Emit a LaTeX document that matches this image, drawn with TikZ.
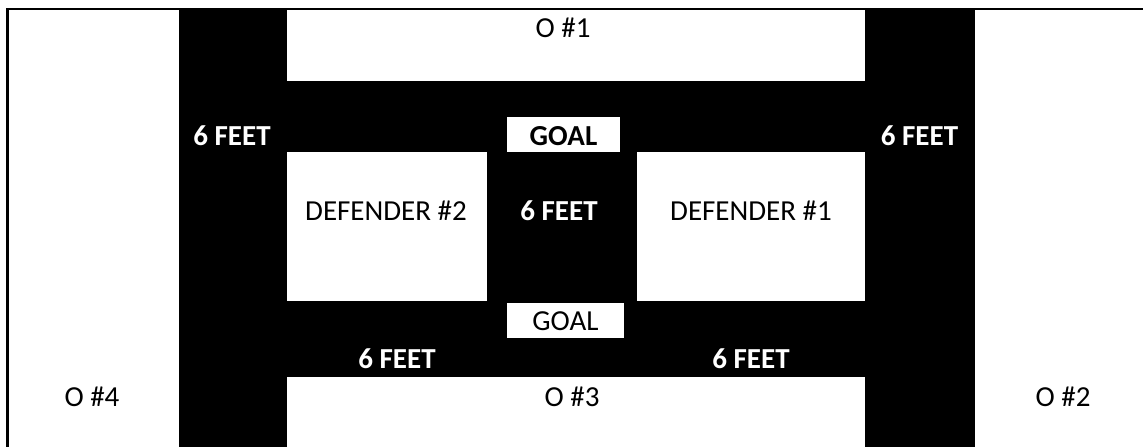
\documentclass[tikz,border=0pt]{standalone}
\usepackage{fontspec}
\setmainfont{Carlito}
\begin{document}
\begin{tikzpicture}[x=1pt,y=-1pt,
  zone/.style={fill=black},
  goalbox/.style={fill=white},
  lbl/.style={font=\fontsize{29}{33}\selectfont, inner sep=0pt, anchor=center},
  boldlbl/.style={lbl, font=\fontsize{29}{33}\selectfont\bfseries, text=white},
  goallbl/.style={lbl, text=black}]
\useasboundingbox (0,0) rectangle (1143,447);
\fill[white] (0,0) rectangle (1143,447);
% frame
\draw[line width=2.2pt] (7.5,447) -- (7.5,9) -- (1143,9);
% black zones
\fill[zone] (179,10) rectangle (287,447);
\fill[zone] (865,10) rectangle (975,447);
\fill[zone] (287,81) rectangle (865,152);
\fill[zone] (287,300.7) rectangle (865,377);
\fill[zone] (487,151) rectangle (637,302);
% goal boxes
\fill[goalbox] (507,117) rectangle (620,152);
\fill[goalbox] (507,303) rectangle (624,338);
% labels
\node[lbl] (o1) at (563,28) {O \#1};
\node[boldlbl] (f1) at (232,136) {6 FEET};
\node[boldlbl] (f2) at (919.5,136) {6 FEET};
\node[goallbl, font=\fontsize{29}{33}\selectfont\bfseries] (g1) at (563.5,136) {GOAL};
\node[lbl] (d2) at (386,211) {DEFENDER \#2};
\node[boldlbl] (f3) at (559,211) {6 FEET};
\node[lbl] (d1) at (751,211) {DEFENDER \#1};
\node[goallbl] (g2) at (565.5,321) {GOAL};
\node[boldlbl] (f4) at (397,359) {6 FEET};
\node[boldlbl] (f5) at (751,359) {6 FEET};
\node[lbl] (o4) at (92,397) {O \#4};
\node[lbl] (o3) at (572,397) {O \#3};
\node[lbl] (o2) at (1063,397) {O \#2};
\end{tikzpicture}
\end{document}
